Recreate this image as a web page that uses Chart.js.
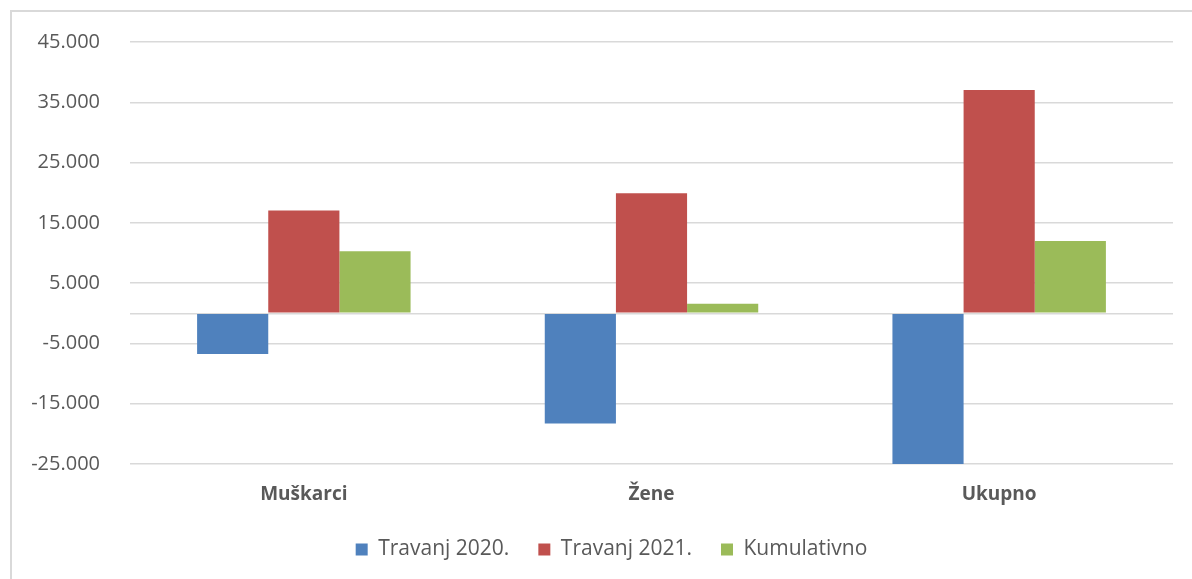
<!DOCTYPE html>
<html>
<head>
<meta charset="utf-8">
<script src="https://cdn.jsdelivr.net/npm/chart.js@4"></script>
<style>
  html, body { margin: 0; padding: 0; background: #fff; }
  #wrap { position: relative; width: 1192px; height: 579px; overflow: hidden; }
  #frame { position: absolute; left: 10px; top: 10px; width: 1200px; height: 600px;
           border: 2px solid #d9d9d9; box-sizing: border-box; background: #fff; }
  canvas { position: absolute; left: 0; top: 0; }
</style>
</head>
<body>
<div id="wrap">
  <div id="frame"></div>
  <canvas id="chart" width="1192" height="579"></canvas>
</div>
<script>
// Categories and series
const categories = ['Muškarci', 'Žene', 'Ukupno']
const travanj2020 = [-6750, -18300, -25000]
const travanj2021 = [17050, 19900, 37050]
const kumulativno = [10300, 1600, 12000]
const yTicks = [-25000, -15000, -5000, 0, 5000, 15000, 25000, 35000, 45000]

const textColor = '#595959'
const gridColor = '#d9d9d9'

// Number format with dot as thousands separator
function fmt(v) {
  return v.toLocaleString('de-DE')
}

// Legend in the original sits a bit right of the canvas centre
const shiftLegend = {
  id: 'shiftLegend',
  afterLayout(chart) {
    chart.legend.left += 50
  },
}

const ctx = document.getElementById('chart').getContext('2d')
new Chart(ctx, {
  type: 'bar',
  data: {
    labels: categories,
    datasets: [
      { label: 'Travanj 2020.', data: travanj2020, backgroundColor: '#4f81bd' },
      { label: 'Travanj 2021.', data: travanj2021, backgroundColor: '#c0504d' },
      { label: 'Kumulativno', data: kumulativno, backgroundColor: '#9bbb59' },
    ],
  },
  plugins: [shiftLegend],
  options: {
    responsive: false,
    animation: false,
    layout: { padding: { top: 40, right: 19, bottom: 9, left: 0 } },
    datasets: {
      bar: { barPercentage: 1, categoryPercentage: 0.614 },
    },
    scales: {
      x: {
        grid: { display: false, drawTicks: false },
        border: { display: false },
        ticks: {
          color: textColor,
          padding: 19,
          font: { family: 'Open Sans', size: 19, weight: 'bold' },
        },
        afterFit: (scale) => { scale.height = 46 },
      },
      y: {
        min: -25000,
        max: 45000,
        afterBuildTicks: (scale) => {
          scale.ticks = yTicks.map(v => ({ value: v }))
        },
        grid: { color: gridColor, lineWidth: 1.5, drawTicks: false },
        border: { display: false },
        ticks: {
          color: textColor,
          padding: 30,
          font: { family: 'Open Sans', size: 20 },
          callback: (v) => (v === 0 ? '' : fmt(v)),
        },
        afterFit: (scale) => { scale.width = 130 },
      },
    },
    plugins: {
      legend: {
        position: 'bottom',
        labels: {
          color: textColor,
          boxWidth: 12,
          boxHeight: 12,
          padding: 29,
          font: { family: 'Open Sans', size: 21 },
        },
      },
      tooltip: { enabled: false },
    },
  },
})
</script>
</body>
</html>
